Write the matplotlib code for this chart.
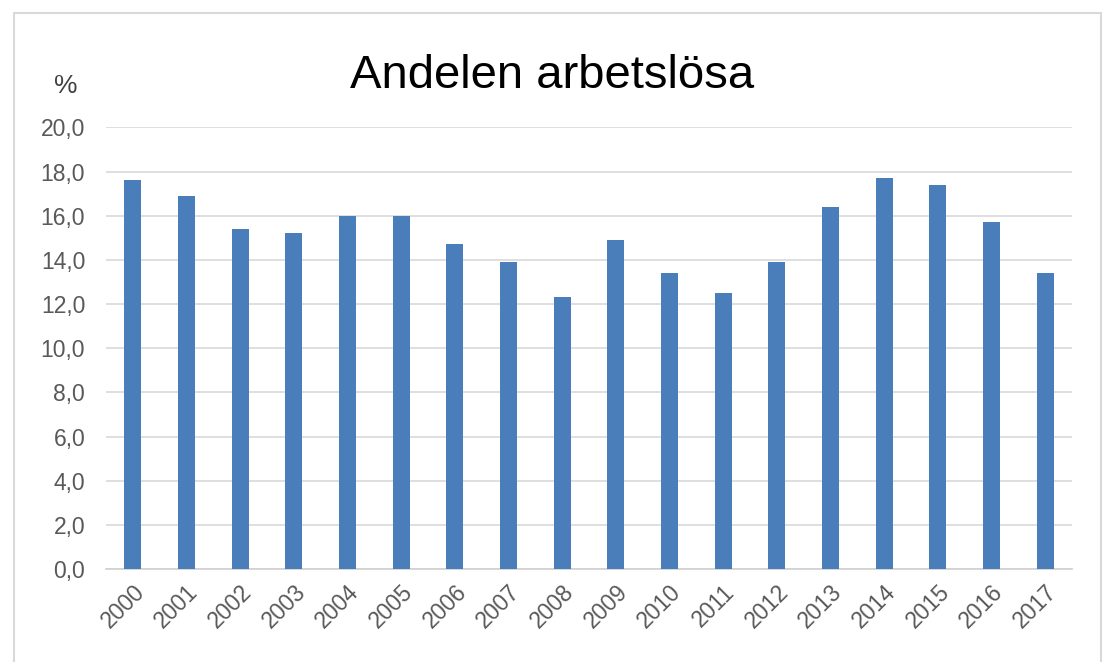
import matplotlib.pyplot as plt
from matplotlib.patches import Rectangle
from matplotlib.ticker import FuncFormatter

# 年份和失业率数据
years = ['2000', '2001', '2002', '2003', '2004', '2005', '2006', '2007', '2008',
         '2009', '2010', '2011', '2012', '2013', '2014', '2015', '2016', '2017']
values = [17.6, 16.9, 15.4, 15.2, 16.0, 16.0, 14.7, 13.9, 12.3,
          14.9, 13.4, 12.5, 13.9, 16.4, 17.7, 17.4, 15.7, 13.4]
y_ticks = [0, 2, 4, 6, 8, 10, 12, 14, 16, 18, 20]

plt.rcParams['font.family'] = ['Liberation Sans', 'DejaVu Sans']

fig = plt.figure(figsize=(11.04, 6.62), dpi=100)
ax = fig.add_axes([0.096, 0.1405, 0.875, 0.667])

x = list(range(len(years)))
ax.bar(x, values, width=0.32, color='#4a7ebb', zorder=3)

ax.set_xlim(-0.5, len(years) - 0.5)
ax.set_ylim(0, 20)
ax.set_yticks(y_ticks)
ax.yaxis.set_major_formatter(FuncFormatter(lambda v, p: f'{v:.1f}'.replace('.', ',')))
ax.set_xticks(x)
ax.set_xticklabels(years, rotation=45, ha='right', rotation_mode='anchor')

ax.grid(axis='y', color='#d9d9d9', linewidth=1.2, zorder=0)
for s in ['top', 'right', 'left']:
    ax.spines[s].set_visible(False)
ax.spines['bottom'].set_color('#d0d0d0')
ax.spines['bottom'].set_linewidth(1.2)
ax.tick_params(axis='both', length=0, colors='#595959', labelsize=16.5)
ax.tick_params(axis='x', pad=8)
ax.tick_params(axis='y', pad=15)

# 标题和单位
fig.text(0.5, 0.885, 'Andelen arbetslösa', ha='center', va='center',
         fontsize=34, color='black')
fig.text(0.06, 0.87, '%', ha='center', va='center', fontsize=19, color='#404040')

# 外框
fig.patches.append(Rectangle((0.013, -0.01), 0.984, 0.99, transform=fig.transFigure,
                             fill=False, edgecolor='#d9d9d9', linewidth=1.5))

plt.savefig('out.png', dpi=100)
